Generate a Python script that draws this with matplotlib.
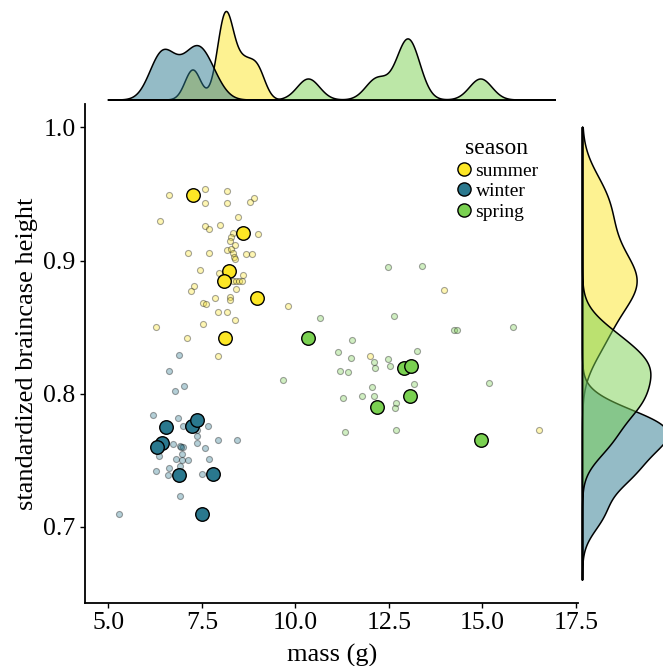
import numpy as np
import matplotlib
matplotlib.use("Agg")
import matplotlib.pyplot as plt
from matplotlib.lines import Line2D

plt.rcParams["font.family"] = ["Liberation Serif", "DejaVu Serif"]

seasons = ["summer", "winter", "spring"]
palette = {"summer": "#fde725", "winter": "#2a788e", "spring": "#7ad151"}

# individual animals
summer_mass = [7.59, 8.18, 6.61, 8.88, 8.78, 7.59, 8.18, 8.46, 6.39, 7.98,
               7.59, 7.69, 8.32, 8.27, 8.99, 8.24, 8.39, 8.18, 8.29, 8.34,
               8.37, 8.39, 7.14, 7.68, 8.68, 8.84, 7.46, 7.96, 8.59, 8.32,
               8.40, 8.48, 8.57, 7.30, 8.42, 7.21, 7.85, 8.24, 8.26, 7.54,
               7.60, 7.92, 8.17, 8.38, 7.53, 6.28, 7.10, 7.93, 9.79, 13.97,
               11.99, 16.52]
summer_height = [0.954, 0.952, 0.949, 0.947, 0.944, 0.943, 0.943, 0.933, 0.930, 0.927,
                 0.926, 0.924, 0.921, 0.918, 0.920, 0.915, 0.912, 0.908, 0.909, 0.906,
                 0.903, 0.901, 0.906, 0.906, 0.905, 0.905, 0.893, 0.891, 0.889, 0.885,
                 0.885, 0.885, 0.885, 0.881, 0.879, 0.877, 0.872, 0.873, 0.870, 0.868,
                 0.867, 0.861, 0.861, 0.855, 0.852, 0.850, 0.842, 0.828, 0.866, 0.878,
                 0.828, 0.773]

winter_mass = [6.88, 6.61, 7.02, 6.79, 6.20, 6.85, 6.99, 7.38, 7.65, 7.38,
               6.73, 7.92, 8.45, 7.36, 7.59, 6.92, 7.00, 6.94, 6.96, 6.35,
               6.80, 6.97, 7.13, 7.68, 6.91, 6.61, 6.28, 6.59, 7.49, 6.92,
               5.29]
winter_height = [0.829, 0.817, 0.806, 0.802, 0.784, 0.782, 0.776, 0.773, 0.776, 0.768,
                 0.762, 0.765, 0.765, 0.763, 0.759, 0.761, 0.760, 0.760, 0.755, 0.753,
                 0.751, 0.750, 0.750, 0.751, 0.746, 0.744, 0.742, 0.739, 0.740, 0.723,
                 0.710]

spring_mass = [12.48, 13.38, 10.66, 12.64, 14.23, 14.32, 15.81, 11.52, 11.13, 11.49,
               12.09, 12.47, 13.25, 12.14, 12.54, 11.19, 11.42, 9.67, 13.17, 15.17,
               12.05, 11.28, 11.78, 12.09, 12.68, 12.66, 11.33, 12.70]
spring_height = [0.895, 0.896, 0.857, 0.858, 0.848, 0.848, 0.850, 0.840, 0.831, 0.827,
                 0.824, 0.826, 0.832, 0.819, 0.821, 0.817, 0.816, 0.810, 0.807, 0.808,
                 0.805, 0.797, 0.798, 0.798, 0.793, 0.789, 0.771, 0.773]

# group means (big markers)
summer_mean_mass = [7.26, 8.61, 8.23, 8.08, 8.98, 8.11]
summer_mean_height = [0.949, 0.921, 0.892, 0.885, 0.872, 0.842]
winter_mean_mass = [6.53, 6.43, 6.29, 7.24, 7.38, 6.88, 7.79, 7.49]
winter_mean_height = [0.775, 0.763, 0.760, 0.776, 0.780, 0.739, 0.740, 0.710]
spring_mean_mass = [10.35, 12.90, 13.09, 13.06, 12.18, 14.96]
spring_mean_height = [0.842, 0.819, 0.821, 0.798, 0.790, 0.765]

points = {"summer": (summer_mass, summer_height),
          "winter": (winter_mass, winter_height),
          "spring": (spring_mass, spring_height)}
means = {"summer": (summer_mean_mass, summer_mean_height),
         "winter": (winter_mean_mass, winter_mean_height),
         "spring": (spring_mean_mass, spring_mean_height)}

# kde bandwidths per season (x, y)
bw = {"summer": (0.21, 0.020), "winter": (0.31, 0.014), "spring": (0.30, 0.015)}


def kde(grid, vals, h):
    vals = np.asarray(vals)
    z = (grid[:, None] - vals[None, :]) / h
    return np.exp(-0.5 * z**2).sum(axis=1) / (len(vals) * h * np.sqrt(2 * np.pi))


xgrid = np.linspace(5.0, 16.95, 600)
ygrid = np.linspace(0.66, 1.0, 600)

W, H = 663, 666
fig = plt.figure(figsize=(W / 100, H / 100), dpi=100)
ax = fig.add_axes([85.3 / W, (H - 602.7) / H, (578 - 85.3) / W, (602.7 - 104) / H])
ax_top = fig.add_axes([85.3 / W, (H - 100) / H, (578 - 85.3) / W, 93 / H], sharex=ax)
ax_right = fig.add_axes([582.5 / W, (H - 602.7) / H, 90 / W, (602.7 - 104) / H], sharey=ax)

# main scatter
for s in seasons:
    ax.scatter(points[s][0], points[s][1], s=19, color=palette[s], alpha=0.35,
               edgecolor="k", linewidth=0.8, zorder=2)
for s in seasons:
    ax.scatter(means[s][0], means[s][1], s=95, color=palette[s],
               edgecolor="k", linewidth=1.0, zorder=3)

# marginals
xmax = 0
ymax = 0
for s in seasons:
    dx = kde(xgrid, means[s][0], bw[s][0])
    dy = kde(ygrid, means[s][1], bw[s][1])
    xmax = max(xmax, dx.max())
    ymax = max(ymax, dy.max())
    ax_top.fill_between(xgrid, 0, dx, facecolor=palette[s], alpha=0.5)
    ax_top.fill_between(xgrid, 0, dx, facecolor="none", edgecolor="k",
                        linewidth=1.1, clip_on=False)
    ax_right.fill_betweenx(ygrid, 0, dy, facecolor=palette[s], alpha=0.5)
    ax_right.fill_betweenx(ygrid, 0, dy, facecolor="none", edgecolor="k",
                           linewidth=1.1, clip_on=False)

ax_top.set_ylim(0, xmax * 1.05)
ax_right.set_xlim(0, ymax * 1.05)
for a in (ax_top, ax_right):
    a.axis("off")

ax.set_xlim(4.38, 17.56)
ax.set_ylim(0.643, 1.0176)
ax.set_xticks([5.0, 7.5, 10.0, 12.5, 15.0, 17.5])
ax.set_xticklabels(["5.0", "7.5", "10.0", "12.5", "15.0", "17.5"])
ax.set_yticks([0.7, 0.8, 0.9, 1.0])
ax.set_yticklabels(["0.7", "0.8", "0.9", "1.0"])
ax.tick_params(labelsize=18.5, length=3.5, width=1.0)
ax.spines["top"].set_visible(False)
ax.spines["right"].set_visible(False)
for sp in ("left", "bottom"):
    ax.spines[sp].set_linewidth(1.3)
ax.set_xlabel("mass (g)", fontsize=19, labelpad=7)
ax.set_ylabel("standardized braincase height", fontsize=19)

handles = [Line2D([], [], marker="o", ls="", markerfacecolor=palette[s],
                  markeredgecolor="k", markeredgewidth=1.0, markersize=9.5)
           for s in seasons]
leg = ax.legend(handles, seasons, title="season", loc="upper left",
                bbox_to_anchor=(0.721, 0.959), frameon=False, fontsize=14,
                title_fontsize=17, handletextpad=0.1, labelspacing=0.15,
                borderpad=0.2, handlelength=1.0)

fig.savefig("out.png", dpi=100)
